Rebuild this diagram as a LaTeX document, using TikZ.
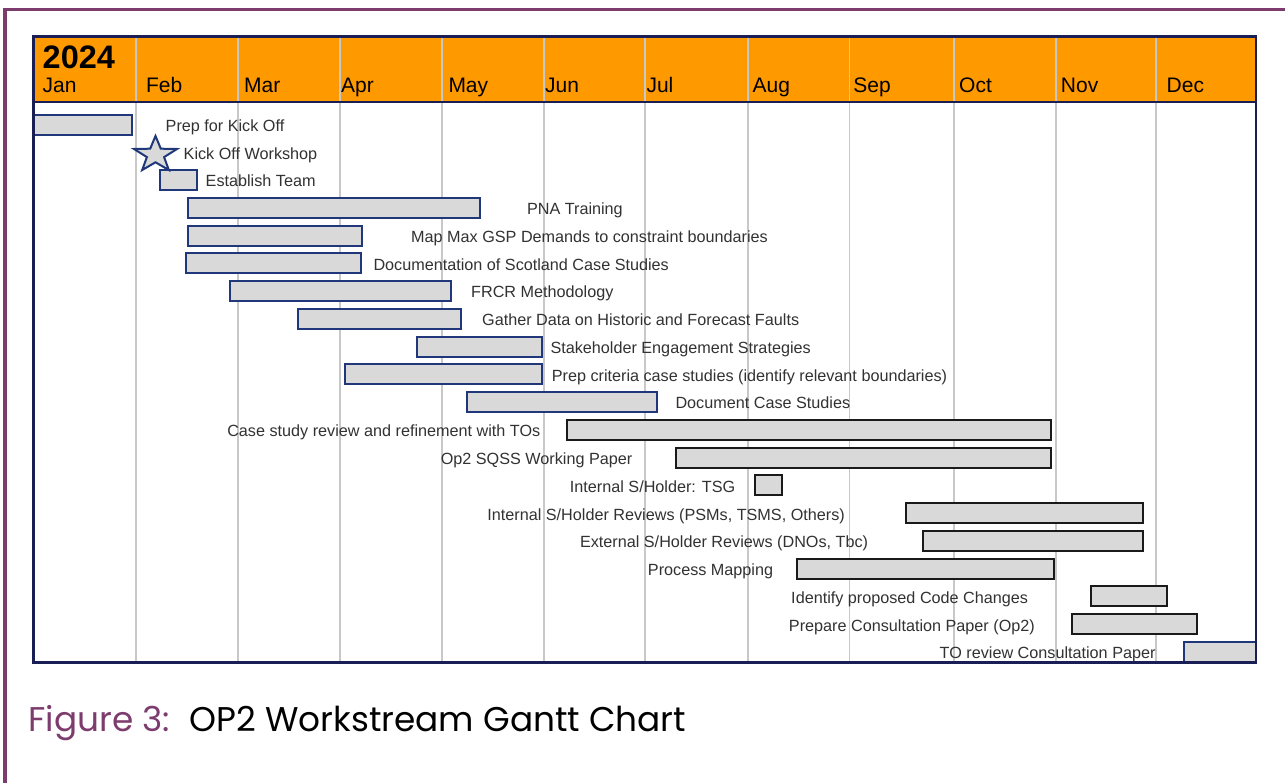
\documentclass[tikz,border=0pt]{standalone}
\usepackage{fontspec}
\setmainfont{Liberation Sans}
\newfontfamily\capfont{Poppins}
\definecolor{framepurple}{RGB}{125,60,110}
\definecolor{headorange}{RGB}{255,153,0}
\definecolor{chartnavy}{RGB}{25,30,85}
\definecolor{barnavy}{RGB}{32,56,122}
\definecolor{barblack}{RGB}{26,26,26}
\definecolor{barfill}{RGB}{217,217,217}
\definecolor{gridgray}{RGB}{200,200,200}
\definecolor{labelgray}{RGB}{50,50,50}

\tikzset{
  outerframe/.style={draw=framepurple, line width=3.4pt},
  gridline/.style={draw=gridgray, line width=1.8pt},
  chartborder/.style={draw=chartnavy, line width=2.6pt},
  navybar/.style={draw=barnavy, fill=barfill, line width=2pt, inner sep=0pt, minimum height=20pt},
  blackbar/.style={draw=barblack, fill=barfill, line width=2pt, inner sep=0pt, minimum height=20pt},
  tasklabel/.style={font=\fontsize{16.2}{19}\selectfont, text=labelgray, inner sep=0pt,
                    text height=11.6pt, text depth=0pt},
  monthlabel/.style={font=\fontsize{21}{24}\selectfont, text=black, inner sep=0pt, anchor=base west},
  yearlabel/.style={font=\fontsize{32.5}{36}\bfseries\selectfont, text=black, inner sep=0pt, anchor=base west},
  capnum/.style={font=\capfont\fontsize{34.3}{40}\selectfont, text=framepurple, inner sep=0pt, anchor=base west},
  captitle/.style={font=\capfont\fontsize{34.3}{40}\selectfont, text=black, inner sep=0pt, anchor=base west},
}

% task bar: name, style, left edge, right edge, row
\newcommand\taskbar[5]{%
  \node[#2, minimum width={#4-#3-2}] (#1) at ({(#3+#4)/2},{124.7+27.75*#5}) {};}
% task label: name, anchor, x, row, text
\newcommand\tasklabel[5]{%
  \node[tasklabel, anchor=#2] (#1) at (#3,{125.7+27.75*#4}) {#5};}

\begin{document}
\begin{tikzpicture}[x=1pt,y=-1pt]
\useasboundingbox (0,0) rectangle (1285,783);
\fill[white] (0,0) rectangle (1285,783);

% page frame
\draw[outerframe] (5,783) -- (5,9.5) -- (1285,9.5);

% header band
\fill[headorange] (33.3,36.7) rectangle (1256,102.3);

% month grid
\foreach \gx in {136,237.7,340,442.3,544.3,645,748.3,849.5,954.3,1055.7,1156}
  \draw[gridline] (\gx,37) -- (\gx,662.5);
\draw[chartborder, line width=2.2pt] (33.3,102.3) -- (1256,102.3);

% header text
\node[yearlabel] (year) at (42.5,68.3) {2024};
\node[monthlabel] (mjan) at (42.5,92.3) {Jan};
\node[monthlabel] (mfeb) at (145.8,92.3) {Feb};
\node[monthlabel] (mmar) at (244,92.3) {Mar};
\node[monthlabel] (mapr) at (341,92.3) {Apr};
\node[monthlabel] (mmay) at (448.3,92.3) {May};
\node[monthlabel] (mjun) at (545,92.3) {Jun};
\node[monthlabel] (mjul) at (646.3,92.3) {Jul};
\node[monthlabel] (maug) at (752.5,92.3) {Aug};
\node[monthlabel] (msep) at (853.2,92.3) {Sep};
\node[monthlabel] (moct) at (959,92.3) {Oct};
\node[monthlabel] (mnov) at (1060.7,92.3) {Nov};
\node[monthlabel] (mdec) at (1166.5,92.3) {Dec};

% bars
\taskbar{b0}{navybar}{33.3}{132.7}{0}
\taskbar{b2}{navybar}{159}{198}{2}
\taskbar{b3}{navybar}{186.7}{480.7}{3}
\taskbar{b4}{navybar}{186.7}{362.7}{4}
\taskbar{b5}{navybar}{185}{362}{5}
\taskbar{b6}{navybar}{229.3}{452.3}{6}
\taskbar{b7}{navybar}{297}{461.7}{7}
\taskbar{b8}{navybar}{416}{542.7}{8}
\taskbar{b9}{navybar}{344}{543.3}{9}
\taskbar{b10}{navybar}{466}{657.7}{10}
\taskbar{b11}{blackbar}{566}{1051.7}{11}
\taskbar{b12}{blackbar}{675}{1051.7}{12}
\taskbar{b13}{blackbar}{754.3}{783.3}{13}
\taskbar{b14}{blackbar}{905}{1144}{14}
\taskbar{b15}{blackbar}{922}{1144}{15}
\taskbar{b16}{blackbar}{795.7}{1055}{16}
\taskbar{b17}{blackbar}{1090}{1168.3}{17}
\taskbar{b18}{blackbar}{1071}{1197.7}{18}
\taskbar{b19}{navybar}{1182.7}{1257}{19}

% kick-off milestone
\draw[draw=barnavy, fill=barfill, line width=2pt, line join=miter]
  (155.5,136) -- (160.8,148.7) -- (177,149) -- (164.1,157.1) -- (168.8,170)
  -- (155.5,162.3) -- (142.2,170) -- (146.9,157.1) -- (134,149) -- (150.2,148.7) -- cycle;

% labels
\tasklabel{l0}{west}{165.5}{0}{Prep for Kick Off}
\tasklabel{l1}{west}{183.5}{1}{Kick Off Workshop}
\tasklabel{l2}{west}{205.5}{2}{Establish Team}
\tasklabel{l3}{west}{526.8}{3}{PNA Training}
\tasklabel{l4}{west}{411}{4}{Map Max GSP Demands to constraint boundaries}
\tasklabel{l5}{west}{373.3}{5}{Documentation of Scotland Case Studies}
\tasklabel{l6}{west}{471}{6}{FRCR Methodology}
\tasklabel{l7}{west}{482}{7}{Gather Data on Historic and Forecast Faults}
\tasklabel{l8}{west}{550.3}{8}{Stakeholder Engagement Strategies}
\tasklabel{l9}{west}{551.6}{9}{Prep criteria case studies (identify relevant boundaries)}
\tasklabel{l10}{west}{675.3}{10}{Document Case Studies}
\tasklabel{l11}{east}{540.5}{11}{Case study review and refinement with TOs}
\tasklabel{l12}{east}{632.5}{12}{Op2 SQSS Working Paper}
\tasklabel{l13}{east}{735.5}{13}{Internal S/Holder: TSG}
\tasklabel{l14}{east}{845}{14}{Internal S/Holder Reviews (PSMs, TSMS, Others)}
\tasklabel{l15}{east}{868.3}{15}{External S/Holder Reviews (DNOs, Tbc)}
\tasklabel{l16}{east}{773.3}{16}{Process Mapping}
\tasklabel{l17}{east}{1028.3}{17}{Identify proposed Code Changes}
\tasklabel{l18}{east}{1035}{18}{Prepare Consultation Paper (Op2)}
\tasklabel{l19}{east}{1155.7}{19}{TO review Consultation Paper}

% chart outline
\draw[chartborder] (33.3,36.7) rectangle (1256,662.5);

% caption
\node[capnum] (capnum) at (28.5,731.7) {Figure 3:};
\node[captitle] (captitle) at (189.5,731.7) {OP2 Workstream Gantt Chart};
\end{tikzpicture}
\end{document}
